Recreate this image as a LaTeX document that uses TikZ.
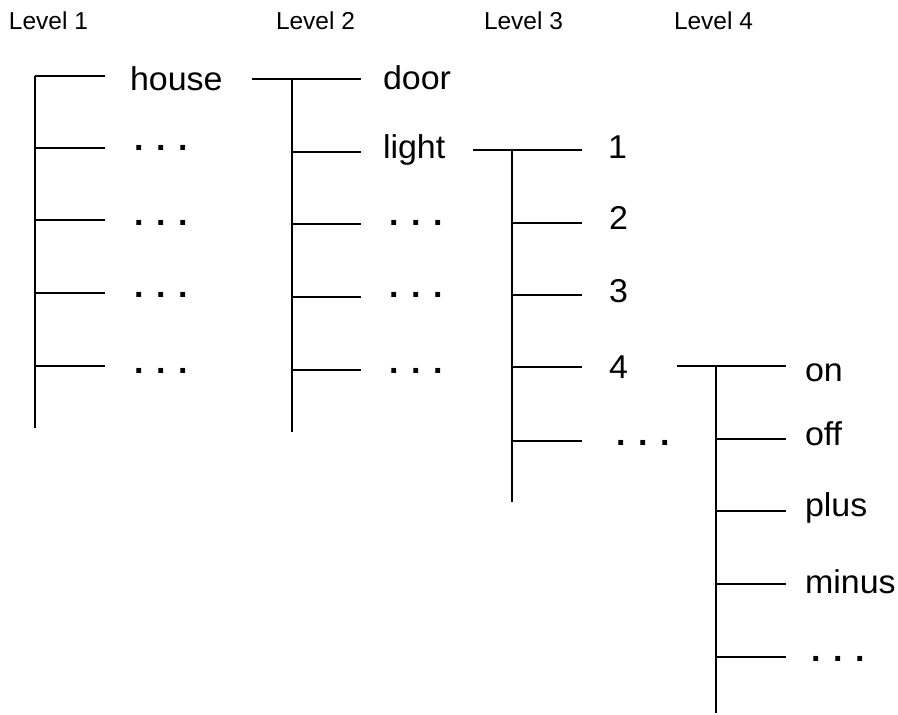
\documentclass[tikz,border=0pt]{standalone}
\usepackage{fontspec}
\setmainfont{Liberation Sans}
\newfontfamily\treefont[FakeStretch=1.03]{Liberation Sans}
\newfontfamily\dotfont{Liberation Sans}
\begin{document}
\begin{tikzpicture}[x=1pt,y=-1pt,line width=2pt,
  lbl/.style={inner sep=0pt,anchor=base west,font=\treefont\fontsize{33}{35}\selectfont},
  dots/.style={inner sep=0pt,anchor=base west,font=\dotfont\bfseries\fontsize{34}{35}\selectfont},
  head/.style={inner sep=0pt,anchor=base west,font=\fontsize{24.5}{26}\selectfont}]
\useasboundingbox (0,0) rectangle (898,715);

% column headings
\node[head] (h1) at (8,29) {Level 1};
\node[head] (h2) at (275,29) {Level 2};
\node[head] (h3) at (483,29) {Level 3};
\node[head] (h4) at (673,29) {Level 4};

% ---- level 1 ----
\coordinate (a0) at (35,76);  \coordinate (a0e) at (105,76);
\coordinate (a1) at (35,148); \coordinate (a1e) at (105,148);
\coordinate (a2) at (35,220); \coordinate (a2e) at (105,220);
\coordinate (a3) at (35,293); \coordinate (a3e) at (105,293);
\coordinate (a4) at (35,366); \coordinate (a4e) at (105,366);
\coordinate (aend) at (35,428);
\draw (a0) -- (aend);
\foreach \i in {0,...,4} \draw (a\i) -- (a\i e);
\node[lbl]  (house) at (129,90) {house};
\node[dots] (ad1) at (133,150) {. . .};
\node[dots] (ad2) at (133,225.5) {. . .};
\node[dots] (ad3) at (133,297.5) {. . .};
\node[dots] (ad4) at (133,373) {. . .};

% ---- level 2 ----
\coordinate (bin) at (252,79);
\coordinate (b0) at (292,79);  \coordinate (b0e) at (361,79);
\coordinate (b1) at (292,152); \coordinate (b1e) at (361,152);
\coordinate (b2) at (292,224); \coordinate (b2e) at (361,224);
\coordinate (b3) at (292,297); \coordinate (b3e) at (361,297);
\coordinate (b4) at (292,370); \coordinate (b4e) at (361,370);
\coordinate (bend) at (292,432);
\draw (bin) -- (b0e);
\draw (b0) -- (bend);
\foreach \i in {1,...,4} \draw (b\i) -- (b\i e);
\node[lbl]  (door)  at (382,89) {door};
\node[lbl]  (light) at (382,158) {light};
\node[dots] (bd2) at (388,225.5) {. . .};
\node[dots] (bd3) at (388,297.5) {. . .};
\node[dots] (bd4) at (388,373) {. . .};

% ---- level 3 ----
\coordinate (cin) at (473,150);
\coordinate (c0) at (512,150); \coordinate (c0e) at (582,150);
\coordinate (c1) at (512,223); \coordinate (c1e) at (582,223);
\coordinate (c2) at (512,295); \coordinate (c2e) at (582,295);
\coordinate (c3) at (512,367); \coordinate (c3e) at (582,367);
\coordinate (c4) at (512,441); \coordinate (c4e) at (582,441);
\coordinate (cend) at (512,502);
\draw (cin) -- (c0e);
\draw (c0) -- (cend);
\foreach \i in {1,...,4} \draw (c\i) -- (c\i e);
\node[lbl]  (n1) at (607,158) {1};
\node[lbl]  (n2) at (608,229) {2};
\node[lbl]  (n3) at (608,302) {3};
\node[lbl]  (n4) at (608,378) {4};
\node[dots] (cd) at (615,445.5) {. . .};

% ---- level 4 ----
\coordinate (din) at (677,366);
\coordinate (d0) at (716,366); \coordinate (d0e) at (786,366);
\coordinate (d1) at (716,439); \coordinate (d1e) at (786,439);
\coordinate (d2) at (716,511); \coordinate (d2e) at (786,511);
\coordinate (d3) at (716,584); \coordinate (d3e) at (786,584);
\coordinate (d4) at (716,657); \coordinate (d4e) at (786,657);
\coordinate (dend) at (716,713);
\draw (din) -- (d0e);
\draw (d0) -- (dend);
\foreach \i in {1,...,4} \draw (d\i) -- (d\i e);
\node[lbl]  (on)    at (804,381) {on};
\node[lbl]  (off)   at (804,445) {off};
\node[lbl]  (plus)  at (804,516) {plus};
\node[lbl]  (minus) at (804,593) {minus};
\node[dots] (dd)    at (810,661.5) {. . .};
\end{tikzpicture}
\end{document}
